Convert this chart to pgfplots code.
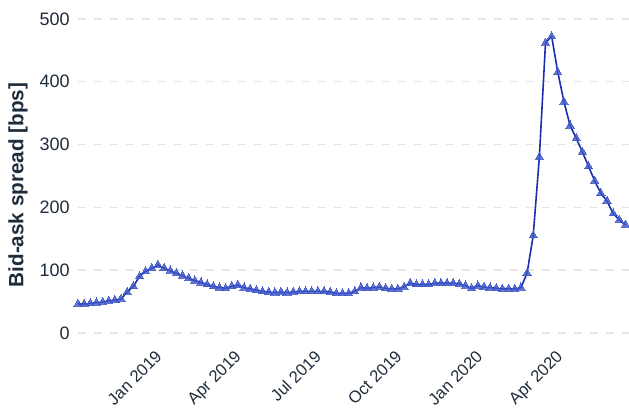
\documentclass[border=0pt]{standalone}
\usepackage{fontspec}
\setmainfont{Liberation Sans}
\usepackage{pgfplots}
\usepackage{pgfplotstable}
\pgfplotsset{compat=1.18}
\definecolor{navy}{HTML}{1F2C3C}
\definecolor{linec}{HTML}{1A2EAE}
\definecolor{markc}{HTML}{3F57C8}
\definecolor{gridc}{HTML}{E6E6E6}

% day = days after 1 Jan 2019, weekly observations
\pgfplotstableread{
day spread
-97 46
-90 46
-83 47
-76 48
-69 49
-62 51
-55 52
-48 54
-41 65
-34 74
-27 90
-20 98
-13 103
-6 108
1 103
8 99
15 95
22 91
29 87
36 83
43 80
50 77
57 74
64 72
71 71
78 74
85 76
92 72
99 70
106 68
113 66
120 65
127 64
134 65
141 64
148 65
155 66
162 66
169 66
176 66
183 66
190 65
197 63
204 63
211 63
218 66
225 72
232 71
239 72
246 73
253 71
260 70
267 70
274 73
281 79
288 77
295 77
302 77
309 79
316 79
323 79
330 79
337 78
344 75
351 71
358 75
365 73
372 72
379 71
386 70
393 70
400 70
407 72
414 95
421 155
428 280
435 462
442 472
449 415
456 368
463 330
470 310
477 288
484 265
491 242
498 222
505 210
512 190
519 180
526 172
}\spread

\begin{document}
\begin{tikzpicture}
\useasboundingbox (0,0) rectangle (471.75pt,306pt);
\begin{axis}[
  at={(58.5pt,54pt)}, anchor=south west,
  scale only axis, width=413.25pt, height=250.5pt,
  xmin=-97, xmax=530, ymin=-5, ymax=527,
  axis line style={draw=none},
  major tick length=0pt,
  xtick={0,90,181,273,365,456},
  xticklabels={Jan 2019,Apr 2019,Jul 2019,Oct 2019,Jan 2020,Apr 2020},
  ytick={0,100,200,300,400,500},
  ymajorgrids,
  grid style={gridc, line width=1pt, dash pattern=on 6pt off 6pt},
  /pgf/number format/assume math mode=true,
  tick label style={font=\fontsize{13.5}{15}\selectfont, text=navy},
  yticklabel style={anchor=east, inner sep=0pt, xshift=-6pt},
  xticklabel style={font=\fontsize{12.5}{14}\selectfont, xshift=-6.5pt, yshift=-9.75pt,
    rotate=45, anchor=north east, inner sep=0pt},
  every axis y label/.style={at={(rel axis cs:0,0.452)}, xshift=-45pt, rotate=90,
    anchor=center,
    font=\fontsize{15.5}{17}\selectfont\bfseries, text=navy},
  ylabel={Bid-ask spread [bps]},
  clip=false,
]
\addplot[only marks, color=markc, mark=triangle*, mark size=3.6pt,
  mark options={solid, draw=markc, fill=markc, line width=0pt, opacity=0.8}] table[x=day, y=spread] {\spread};
\addplot[linec, line width=1.2pt, mark=none] table[x=day, y=spread] {\spread};
\end{axis}
\end{tikzpicture}
\end{document}
